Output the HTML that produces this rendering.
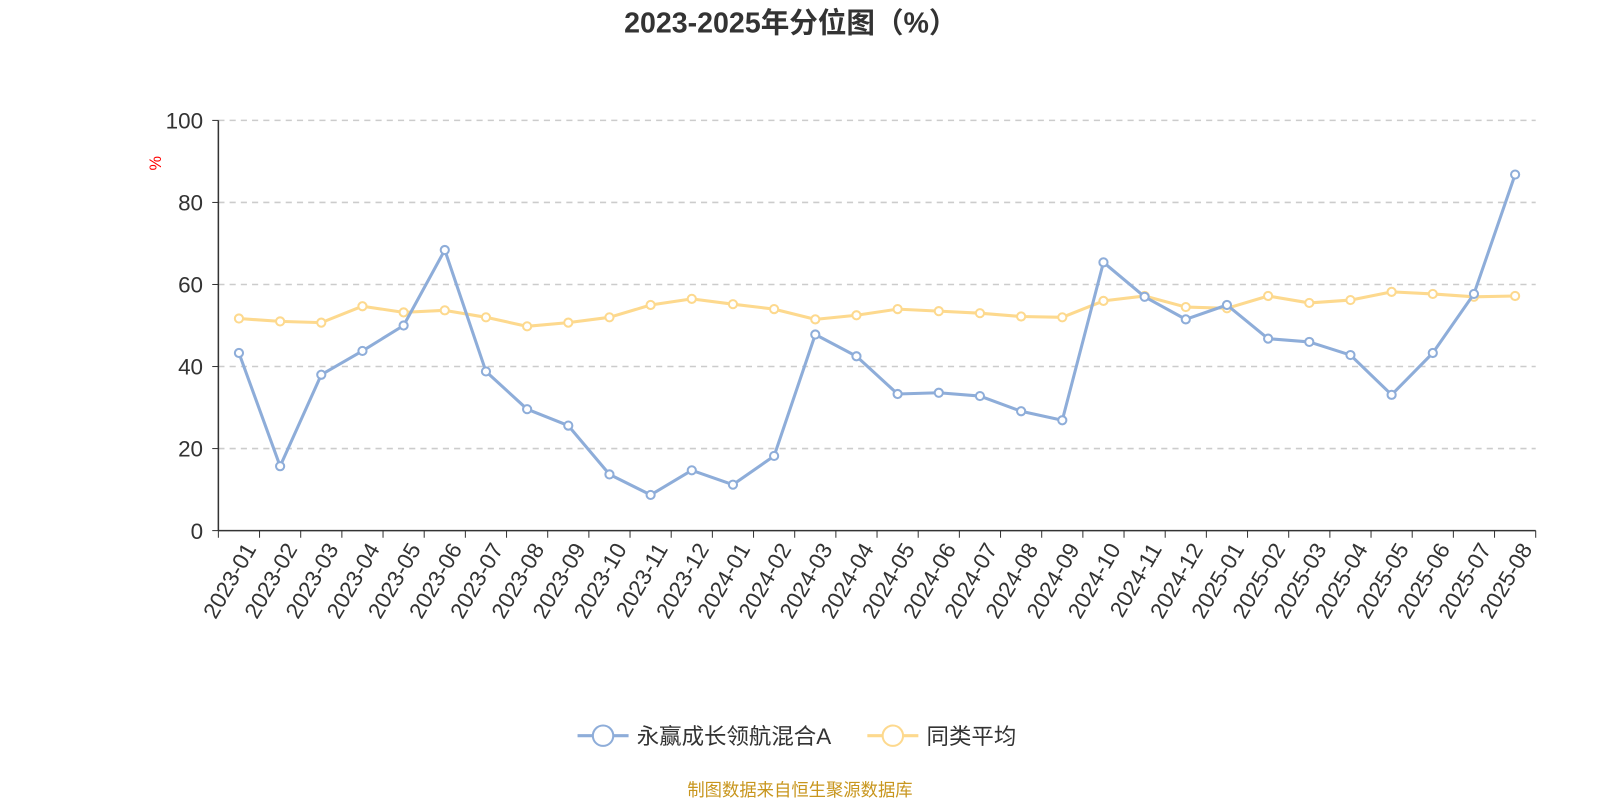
<!DOCTYPE html>
<html><head><meta charset="utf-8"><style>
body{margin:0;background:#fff;overflow:hidden;}
svg text{font-family:"Liberation Sans","Noto Sans CJK SC",sans-serif;}
</style></head><body>
<svg id="c" width="1600" height="800" xmlns="http://www.w3.org/2000/svg"><g id="root" transform="scale(1.0204)"></g></svg>
<script>
const categories=["2023-01","2023-02","2023-03","2023-04","2023-05","2023-06","2023-07","2023-08","2023-09","2023-10","2023-11","2023-12","2024-01","2024-02","2024-03","2024-04","2024-05","2024-06","2024-07","2024-08","2024-09","2024-10","2024-11","2024-12","2025-01","2025-02","2025-03","2025-04","2025-05","2025-06","2025-07","2025-08"];
const fundValues=[43.3,15.7,38,43.8,50,68.4,38.8,29.6,25.6,13.7,8.7,14.7,11.2,18.2,47.8,42.5,33.3,33.6,32.8,29.1,26.9,65.4,57,51.5,55,46.8,46,42.8,33.1,43.3,57.7,86.8];
const avgValues=[51.7,51,50.7,54.7,53.2,53.7,52,49.8,50.7,52,55,56.5,55.2,54,51.5,52.5,54,53.5,53,52.2,52,56,57.2,54.5,54.2,57.2,55.5,56.2,58.2,57.7,57,57.2];
const yTicks=[0,20,40,60,80,100];
const svg=document.getElementById('root');const NS="http://www.w3.org/2000/svg";
function mk(t,a,p){const e=document.createElementNS(NS,t);for(const k in a)e.setAttribute(k,a[k]);(p||svg).appendChild(e);return e;}
const x0=214,x1=1505,yb=520,yt=118;
const bw=(x1-x0)/categories.length;
const X=i=>x0+bw*(i+0.5);
const Y=v=>yb-(v/100)*(yb-yt);
let t=mk('text',{x:775,y:32,'text-anchor':'middle','font-size':28,'font-weight':'bold',fill:'#333'});t.textContent='2023-2025年分位图（%）';


yTicks.forEach(v=>{
 if(v>0){const l=mk('line',{x1:x0,x2:x1,y1:Y(v),y2:Y(v),stroke:'#ccc','stroke-dasharray':'6,5','stroke-width':1.5});
 
 }
 const tx=mk('text',{x:199,y:Y(v)+8,'text-anchor':'end','font-size':22,fill:'#333'});tx.textContent=v;
 
 
 mk('line',{x1:x0-6,x2:x0,y1:Y(v),y2:Y(v),stroke:'#333'});
});
mk('line',{x1:x0,x2:x0,y1:yt,y2:yb,stroke:'#333','stroke-width':1.5});
mk('line',{x1:x0,x2:x1,y1:yb,y2:yb,stroke:'#333','stroke-width':1.5});
let u=mk('text',{x:158,y:160,'text-anchor':'middle','font-size':16,fill:'red',transform:'rotate(-90 158 160)'});u.textContent='%';


for(let i=0;i<=categories.length;i++)mk('line',{x1:x0+bw*i,x2:x0+bw*i,y1:yb,y2:yb+7,stroke:'#333'});
categories.forEach((c,i)=>{const xx=X(i),yy=530;
 const tx=mk('text',{x:xx+4,y:yy,'text-anchor':'end','font-size':22,fill:'#333',transform:`rotate(-60 ${xx+4} ${yy})`,'dominant-baseline':'hanging'});tx.textContent=c;
 
 });
function series(vals,col,name){
 const p=mk('polyline',{points:vals.map((v,i)=>X(i)+','+Y(v)).join(' '),fill:'none',stroke:col,'stroke-width':3,'stroke-linejoin':'round'});
 
 
 vals.forEach((v,i)=>{const c=mk('circle',{cx:X(i),cy:Y(v),r:4,fill:'#fff',stroke:col,'stroke-width':2});
 
 });
}
series(avgValues,'#fdd98e','avg');
series(fundValues,'#8eadd9','fund');
function leg(x,col,label,name){const g=mk('g',{});
 
 
 mk('line',{x1:x,x2:x+50,y1:721,y2:721,stroke:col,'stroke-width':3},g);
 mk('circle',{cx:x+25,cy:721,r:10,fill:'#fff',stroke:col,'stroke-width':2},g);
 const tx=mk('text',{x:x+58,y:729,'font-size':22,fill:'#333'},g);tx.textContent=label;}
leg(566,'#8eadd9','永赢成长领航混合A','legend-fund');
leg(850,'#fdd98e','同类平均','legend-avg');
let s=mk('text',{x:784,y:780,'text-anchor':'middle','font-size':17,fill:'#c8961e'});s.textContent='制图数据来自恒生聚源数据库';


</script>
</body></html>
